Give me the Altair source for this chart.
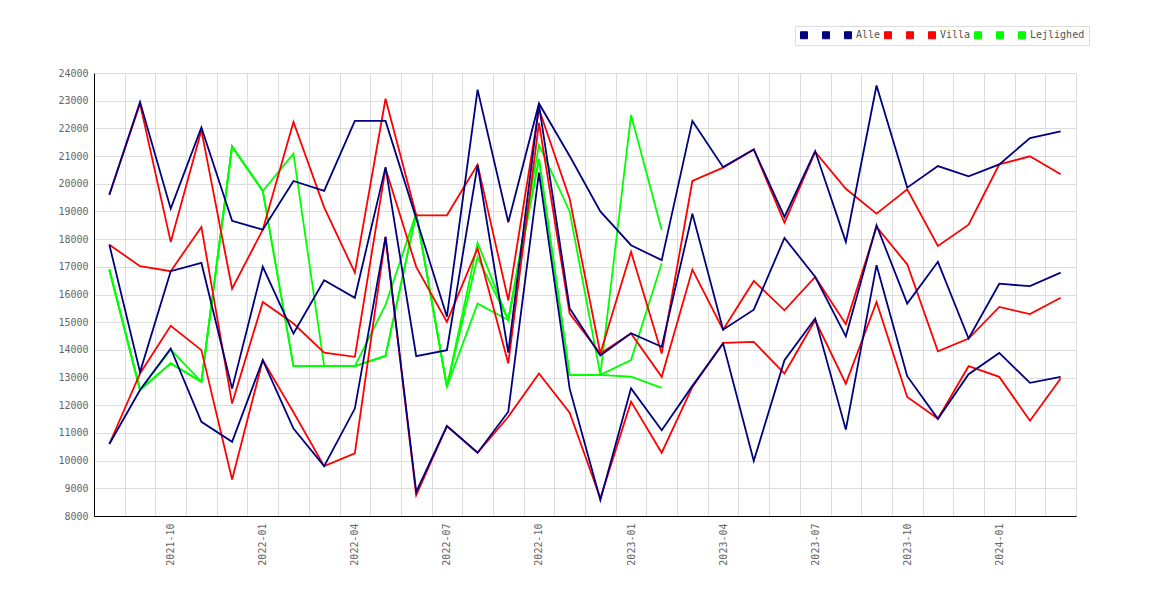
import altair as alt
import pandas as pd

months = ["2021-08", "2021-09", "2021-10", "2021-11", "2021-12",
          "2022-01", "2022-02", "2022-03", "2022-04", "2022-05", "2022-06",
          "2022-07", "2022-08", "2022-09", "2022-10", "2022-11", "2022-12",
          "2023-01", "2023-02", "2023-03", "2023-04", "2023-05", "2023-06",
          "2023-07", "2023-08", "2023-09", "2023-10", "2023-11", "2023-12",
          "2024-01", "2024-02", "2024-03"]

alle_1 = [19600, 22950, 19100, 22030, 18660, 18340, 20100, 19740, 22270, 22270, 18750,
          15200, 23400, 18610, 22900, 21000, 19000, 17780, 17240, 22270, 20600, 21240,
          18800, 21180, 17900, 23550, 19860, 20640, 20270, 20700, 21650, 21890]
alle_2 = [17800, 13200, 16840, 17140, 12600, 17000, 14590, 16515, 15880, 20600, 13770,
          13990, 20670, 13900, 22850, 15500, 13800, 14600, 14110, 18920, 14730, 15450,
          18040, 16640, 14490, 18500, 15670, 17180, 14410, 16390, 16300, 16790]
alle_3 = [10600, 12550, 14050, 11400, 10680, 13630, 11160, 9800, 11880, 18080, 8870,
          11250, 10285, 11766, 20400, 12600, 8575, 12610, 11100, 12700, 14230, 9990,
          13630, 15130, 11120, 17060, 13050, 11510, 13120, 13890, 12810, 13025]

villa_1 = [19600, 22890, 17900, 21930, 16210, 18340, 22230, 19150, 16790, 23070, 18860,
           18860, 20690, 15790, 22700, 19460, 13870, 17540, 13870, 20100, 20580, 21240,
           18590, 21150, 19820, 18920, 19800, 17750, 18520, 20700, 20990, 20340]
villa_2 = [17800, 17020, 16840, 18440, 12060, 15730, 14950, 13900, 13750, 20550, 17000,
           15010, 17670, 13510, 22200, 15310, 13870, 14590, 13025, 16900, 14730, 16490,
           15430, 16635, 14930, 18440, 17090, 13950, 14410, 15550, 15290, 15880]
villa_3 = [10600, 13150, 14870, 13990, 9320, 13630, 11750, 9800, 10260, 18080, 8750,
           11250, 10285, 11585, 13150, 11730, 8640, 12130, 10285, 12660, 14250, 14290,
           13145, 15070, 12780, 15730, 12300, 11510, 13410, 13025, 11440, 12965]

lejl_1 = [16900, 12550, 14010, 12850, 21350, 19740, 21090, 13410, 13410, 15620, 18930,
          12670, 17870, 15080, 21400, 19000, 13100, 22480, 18330]
lejl_2 = [16900, 12550, 13510, 12850, 21350, 19740, 13410, 13410, 13410, 13780, 18930,
          12670, 17350, 15080, 20900, 13090, 13100, 13630, 17130]
lejl_3 = [16900, 12550, 13510, 12850, 21350, 19740, 13410, 13410, 13410, 13780, 18930,
          12670, 15670, 15080, 20900, 13090, 13100, 13030, 12630]

y_ticks = list(range(8000, 24001, 1000))
quarter_months = ["01", "04", "07", "10"]

keys = ["a1", "a2", "Alle", "v1", "v2", "Villa", "l1", "l2", "Lejlighed"]
colors = ["#000080"] * 3 + ["#ff0000"] * 3 + ["#00ff00"] * 3


def frame(series_list):
    rows = []
    for key, vals in series_list:
        for m, v in zip(months, vals):
            if v is not None:
                rows.append({"month": m, "value": v, "series": key})
    return pd.DataFrame(rows)


df_alle = frame([("a1", alle_1), ("a2", alle_2), ("Alle", alle_3)])
df_villa = frame([("v1", villa_1), ("v2", villa_2), ("Villa", villa_3)])
df_lejl = frame([("l1", lejl_1), ("l2", lejl_2), ("Lejlighed", lejl_3)])
df_all = pd.concat([df_alle, df_villa, df_lejl], ignore_index=True)

FONT = "DejaVu Sans Mono"

label_expr = "indexof(%s, substring(datum.value, 5, 7)) >= 0 ? datum.value : ''" % str(quarter_months)

x_enc = alt.X(
    "month:O",
    scale=alt.Scale(type="band", domain=months, paddingInner=0, paddingOuter=0),
    axis=alt.Axis(
        title=None, tickBand="extent", ticks=False, grid=True, gridColor="#dddddd",
        labelAngle=270, labelExpr=label_expr, labelOverlap=False,
        labelFont=FONT, labelFontSize=10, labelColor="#666666", labelPadding=7,
        domainColor="#000000", domainWidth=1,
    ),
)
y_enc = alt.Y(
    "value:Q",
    scale=alt.Scale(domain=[8000, 24000], nice=False, zero=False),
    axis=alt.Axis(
        title=None, values=y_ticks, format="d", ticks=False, grid=True,
        gridColor="#dddddd", labelFont=FONT, labelFontSize=10, labelColor="#666666",
        labelPadding=6, domainColor="#000000", domainWidth=1,
    ),
)
color_enc = alt.Color(
    "series:N",
    scale=alt.Scale(domain=keys, range=colors),
    legend=alt.Legend(
        title=None, orient="none", legendX=701, legendY=-47, direction="horizontal",
        columns=9, symbolType="square", symbolSize=49, labelOffset=3,
        columnPadding=1, padding=4, strokeColor="#dddddd", fillColor="#ffffff",
        labelFont=FONT, labelFontSize=10, labelColor="#555555",
        symbolStrokeColor="#555555", symbolStrokeWidth=1, symbolOpacity=1,
        labelExpr="length(datum.label) < 3 ? '\u2800' : datum.label",
    ),
)

# invisible square layer gives the legend its filled square symbols
legend_layer = alt.Chart(df_all).mark_square(filled=True, size=0).encode(
    x=x_enc, y=y_enc, color=color_enc
)


def layer(df):
    return alt.Chart(df).mark_line(strokeWidth=1.8).encode(x=x_enc, y=y_enc, color=color_enc)


chart = alt.layer(legend_layer, layer(df_lejl), layer(df_villa), layer(df_alle)).properties(
    width=982, height=443,
    autosize=alt.AutoSizeParams(type="none"),
    padding={"left": 86, "top": 65, "right": 20, "bottom": 80},
).configure_view(strokeWidth=0)

chart.save("out.html", embed_options={"renderer": "svg", "actions": False})
